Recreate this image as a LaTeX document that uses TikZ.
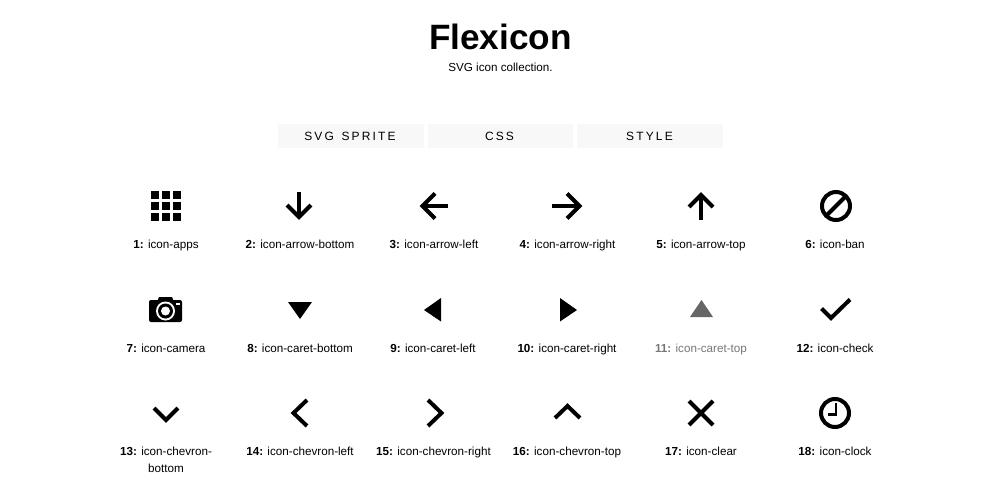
\documentclass[tikz,border=0pt]{standalone}
\usepackage{fontspec}
\setmainfont{Liberation Sans}
\tikzset{
  x=0.75pt,y=-0.75pt,
  lab/.style={anchor=base,inner sep=0pt,font=\fontsize{8.75}{12.75}\selectfont,align=center},
  tabbox/.style={fill=tabgray,draw=none},
  tabtext/.style={anchor=base,inner sep=0pt,font=\fontsize{9}{11}\selectfont\addfontfeature{LetterSpace=18}},
  ico/.style={line width=3pt,black,miter limit=10},
}
\definecolor{tabgray}{HTML}{F8F8F8}
\definecolor{fadeic}{HTML}{666666}
\definecolor{fadetx}{HTML}{777777}
\newcommand{\lbl}[2]{\textbf{#1:} #2}
\begin{document}
\begin{tikzpicture}
\useasboundingbox (0,0) rectangle (1000,500);
\fill[white] (0,0) rectangle (1000,500);
% header
\node[anchor=base,inner sep=0pt,font=\fontsize{26.4}{30}\selectfont\bfseries] (title) at (500.5,49) {Flexicon};
\node[lab] (sub) at (500.5,71) {SVG icon collection.};
% tabs
\fill[tabbox] (278,124) rectangle (424,148);
\fill[tabbox] (428,124) rectangle (573,148);
\fill[tabbox] (577,124) rectangle (723,148);
\node[tabtext] (t1) at (350,140) {SVG\hspace{1.6pt} SPRITE};
\node[tabtext] (t2) at (499.5,140) {CSS};
\node[tabtext] (t3) at (649.5,140) {STYLE};
% labels
\node[lab] (l1) at (166,248) {\lbl{1}{icon-apps}};
\node[lab] (l2) at (300,248) {\lbl{2}{icon-arrow-bottom}};
\node[lab] (l3) at (434,248) {\lbl{3}{icon-arrow-left}};
\node[lab] (l4) at (567.5,248) {\lbl{4}{icon-arrow-right}};
\node[lab] (l5) at (701,248) {\lbl{5}{icon-arrow-top}};
\node[lab] (l6) at (835,248) {\lbl{6}{icon-ban}};
\node[lab] (l7) at (166,352) {\lbl{7}{icon-camera}};
\node[lab] (l8) at (300,352) {\lbl{8}{icon-caret-bottom}};
\node[lab] (l9) at (433,352) {\lbl{9}{icon-caret-left}};
\node[lab] (l10) at (567,352) {\lbl{10}{icon-caret-right}};
\node[lab,text=fadetx] (l11) at (701,352) {\lbl{11}{icon-caret-top}};
\node[lab] (l12) at (835,352) {\lbl{12}{icon-check}};
\node[lab] (l13) at (166,472) {\lbl{13}{icon-chevron-}\\bottom};
\node[lab] (l14) at (300,455) {\lbl{14}{icon-chevron-left}};
\node[lab] (l15) at (433.5,455) {\lbl{15}{icon-chevron-right}};
\node[lab] (l16) at (567,455) {\lbl{16}{icon-chevron-top}};
\node[lab] (l17) at (701,455) {\lbl{17}{icon-clear}};
\node[lab] (l18) at (835,455) {\lbl{18}{icon-clock}};
% 1 apps
\foreach \i in {0,1,2}\foreach \j in {0,1,2}
  \fill ({151+\i*11},{191+\j*11}) rectangle ++(8,8);
% 2 arrow bottom
\draw[ico] (299,192) -- (299,216);
\draw[ico] (287,205) -- (299,217) -- (311,205);
% 3 arrow left
\draw[ico] (448,206) -- (423,206);
\draw[ico] (435,193.5) -- (422.5,206) -- (435,218.5);
% 4 arrow right
\draw[ico] (552,206) -- (578,206);
\draw[ico] (567,193.5) -- (579.5,206) -- (567,218.5);
% 5 arrow top
\draw[ico] (701,220) -- (701,195);
\draw[ico] (689,207) -- (701,195) -- (713,207);
% 6 ban
\draw[ico] (836,206) circle (14);
\draw[ico] (826,216) -- (846,196);
% 7 camera
\fill[rounded corners=1.5pt] (149,300) rectangle (182,322);
\fill (157,302) -- (159,297) -- (172,297) -- (174,302) -- cycle;
\fill[white] (165.5,311) circle (9.5);
\fill (165.5,311) circle (7.5);
\fill[white] (165.5,311) circle (4.5);
\fill[white] (176,303) rectangle (180,304.5);
% 8-11 carets
\fill (288,302) -- (312,302) -- (300,319) -- cycle;
\fill (441,298) -- (441,321.5) -- (424,310) -- cycle;
\fill (560,298) -- (560,321.5) -- (577,310) -- cycle;
\fill[fadeic] (690,317) -- (713,317) -- (701.5,300) -- cycle;
% 12 check
\draw[ico] (821.5,308.5) -- (831,318) -- (850,299.5);
% 13-16 chevrons
\draw[ico] (154,408) -- (166,420) -- (178,408);
\draw[ico] (307,400) -- (293.5,413) -- (307,426);
\draw[ico] (428,400) -- (441.5,413) -- (428,426);
\draw[ico] (555,418) -- (567.5,406) -- (580,418);
% 17 clear
\draw[ico] (689,401) -- (713,425);
\draw[ico] (713,401) -- (689,425);
% 18 clock
\draw[ico] (835,413) circle (14);
\draw[line width=2.2pt] (836,403) -- (836,414.5) -- (828,414.5);
\end{tikzpicture}
\end{document}
